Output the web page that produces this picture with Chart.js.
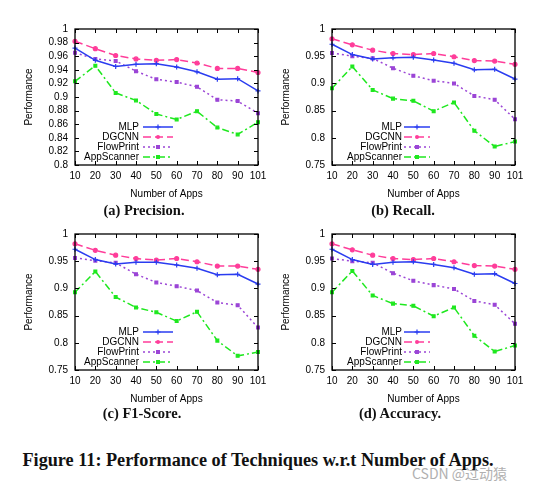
<!DOCTYPE html>
<html>
<head>
<meta charset="utf-8">
<script src="https://cdn.jsdelivr.net/npm/chart.js@4.4.1/dist/chart.umd.min.js"></script>
<style>
  body { margin: 0; background: #fff; }
  #page { position: relative; width: 547px; height: 489px; overflow: hidden; background: #fff; }
  .panel { position: absolute; width: 273px; height: 200px; }
  .sub {
    position: absolute;
    transform: translate(-50%, -50%);
    font-family: "Liberation Serif", "DejaVu Serif", serif;
    font-weight: bold;
    font-size: 14.5px;
    color: #111;
    white-space: nowrap;
  }
  #figCaption {
    position: absolute;
    left: 258px; top: 460px;
    transform: translate(-50%, -50%);
    font-family: "Liberation Serif", "DejaVu Serif", serif;
    font-weight: bold;
    font-size: 18.2px;
    color: #111;
    white-space: nowrap;
  }
  #mark {
    position: absolute;
    left: 412px; top: 463px;
    font-family: "Noto Sans CJK SC", "Liberation Sans", sans-serif;
    font-size: 14px;
    color: #b0b0b0;
    white-space: nowrap;
  }
</style>
</head>
<body>
<div id="page">
  <canvas id="chartA" class="panel" width="273" height="200" style="left:0px;top:0px"></canvas>
  <canvas id="chartB" class="panel" width="273" height="200" style="left:257px;top:0px"></canvas>
  <canvas id="chartC" class="panel" width="273" height="200" style="left:0px;top:205px"></canvas>
  <canvas id="chartD" class="panel" width="273" height="200" style="left:257px;top:205px"></canvas>
  <div class="sub" style="left:144px;top:210px">(a) Precision.</div>
  <div class="sub" style="left:403px;top:210px">(b) Recall.</div>
  <div class="sub" style="left:142px;top:413px">(c) F1-Score.</div>
  <div class="sub" style="left:400px;top:413px">(d) Accuracy.</div>
  <div id="figCaption">Figure 11: Performance of Techniques w.r.t Number of Apps.</div>
  <div id="mark">CSDN @过动猿</div>
</div>
<script>
// x categories (number of apps)
let appCounts = ['10', '20', '30', '40', '50', '60', '70', '80', '90', '101'];
let techniques = ['MLP', 'DGCNN', 'FlowPrint', 'AppScanner'];

// (a) precision
let precisionMLP = [0.972, 0.954, 0.945, 0.948, 0.949, 0.944, 0.937, 0.926, 0.927, 0.909];
let precisionDGCNN = [0.982, 0.971, 0.961, 0.956, 0.954, 0.955, 0.950, 0.942, 0.942, 0.936];
let precisionFlowPrint = [0.965, 0.956, 0.953, 0.938, 0.926, 0.922, 0.915, 0.896, 0.894, 0.876];
let precisionAppScanner = [0.923, 0.946, 0.906, 0.895, 0.875, 0.867, 0.879, 0.855, 0.845, 0.863];

// (b) recall
let recallMLP = [0.972, 0.953, 0.945, 0.947, 0.948, 0.943, 0.937, 0.925, 0.926, 0.908];
let recallDGCNN = [0.982, 0.971, 0.961, 0.955, 0.953, 0.955, 0.949, 0.942, 0.941, 0.935];
let recallFlowPrint = [0.956, 0.950, 0.946, 0.928, 0.914, 0.905, 0.900, 0.877, 0.870, 0.834];
let recallAppScanner = [0.891, 0.931, 0.888, 0.872, 0.868, 0.849, 0.865, 0.813, 0.784, 0.793];

// (c) f1-score
let f1MLP = [0.972, 0.953, 0.945, 0.948, 0.948, 0.943, 0.937, 0.925, 0.926, 0.908];
let f1DGCNN = [0.982, 0.970, 0.961, 0.955, 0.952, 0.955, 0.949, 0.941, 0.941, 0.935];
let f1FlowPrint = [0.956, 0.951, 0.947, 0.926, 0.911, 0.904, 0.896, 0.874, 0.869, 0.828];
let f1AppScanner = [0.893, 0.931, 0.884, 0.865, 0.856, 0.840, 0.857, 0.804, 0.776, 0.783];

// (d) accuracy
let accuracyMLP = [0.972, 0.953, 0.944, 0.948, 0.949, 0.944, 0.938, 0.926, 0.927, 0.909];
let accuracyDGCNN = [0.982, 0.971, 0.961, 0.955, 0.953, 0.955, 0.949, 0.942, 0.941, 0.935];
let accuracyFlowPrint = [0.955, 0.950, 0.947, 0.928, 0.914, 0.906, 0.899, 0.877, 0.870, 0.835];
let accuracyAppScanner = [0.893, 0.932, 0.887, 0.872, 0.868, 0.849, 0.865, 0.813, 0.784, 0.795];

let styles = [
  { color: '#2a3cf0', dash: [], marker: 'cross' },
  { color: '#ff3d9a', dash: [8, 4], marker: 'circle' },
  { color: '#9b45d6', dash: [2, 3], marker: 'rect' },
  { color: '#1fe81f', dash: [7, 3, 2, 3], marker: 'rect' }
];

Chart.defaults.font.family = '"Liberation Sans", Arial, sans-serif';
Chart.defaults.font.size = 10;
Chart.defaults.color = '#000';

function drawMarker(ctx, type, x, y, color) {
  ctx.save();
  ctx.setLineDash([]);
  ctx.strokeStyle = color;
  ctx.fillStyle = color;
  ctx.lineWidth = 1.2;
  if (type === 'cross') {
    ctx.beginPath();
    ctx.moveTo(x - 2.5, y); ctx.lineTo(x + 2.5, y);
    ctx.moveTo(x, y - 2.5); ctx.lineTo(x, y + 2.5);
    ctx.stroke();
  } else if (type === 'circle') {
    ctx.beginPath();
    ctx.arc(x, y, 2, 0, Math.PI * 2);
    ctx.fill();
  } else {
    ctx.fillRect(x - 2, y - 2, 4, 4);
  }
  ctx.restore();
}

// box with inward tick marks, like gnuplot
let framePlugin = {
  id: 'frame',
  afterDatasetsDraw(chart) {
    let ctx = chart.ctx;
    let area = chart.chartArea;
    let xs = chart.scales.x;
    let ys = chart.scales.y;
    ctx.save();
    ctx.strokeStyle = '#000';
    ctx.lineWidth = 1;
    ctx.beginPath();
    for (let i = 0; i < ys.ticks.length; i++) {
      let y = Math.round(ys.getPixelForValue(ys.ticks[i].value)) + 0.5;
      ctx.moveTo(area.left, y); ctx.lineTo(area.left + 4, y);
      ctx.moveTo(area.right, y); ctx.lineTo(area.right - 4, y);
    }
    for (let i = 0; i < appCounts.length; i++) {
      let x = Math.round(xs.getPixelForValue(i)) + 0.5;
      ctx.moveTo(x, area.bottom); ctx.lineTo(x, area.bottom - 4);
      ctx.moveTo(x, area.top); ctx.lineTo(x, area.top + 4);
    }
    ctx.stroke();
    ctx.lineWidth = 1.3;
    ctx.strokeRect(area.left, area.top, area.right - area.left, area.bottom - area.top);
    ctx.restore();
  }
};

// gnuplot style key: text right aligned, sample line to its right
let keyPlugin = {
  id: 'key',
  afterDraw(chart, args, opts) {
    let ctx = chart.ctx;
    let area = chart.chartArea;
    ctx.save();
    ctx.font = '10px "Liberation Sans", Arial, sans-serif';
    ctx.textAlign = 'right';
    ctx.textBaseline = 'middle';
    chart.data.datasets.forEach(function (ds, i) {
      let y = area.top + 98 + i * 10;
      ctx.fillStyle = '#000';
      ctx.fillText(ds.label, area.left + opts.textEnd, y);
      let x0 = area.left + opts.lineStart;
      let x1 = area.left + 98;
      ctx.strokeStyle = ds.borderColor;
      ctx.lineWidth = 1.5;
      ctx.setLineDash(ds.borderDash);
      ctx.beginPath();
      ctx.moveTo(x0, y); ctx.lineTo(x1, y);
      ctx.stroke();
      drawMarker(ctx, styles[i].marker, (x0 + x1) / 2, y, ds.borderColor);
    });
    ctx.restore();
  }
};

function createChart(id, series, yMin, yStep, key) {
  let ctx = document.getElementById(id).getContext('2d');
  let datasets = [];
  for (let i = 0; i < techniques.length; i++) {
    datasets.push({
      label: techniques[i],
      data: series[i],
      borderColor: styles[i].color,
      backgroundColor: styles[i].color,
      borderDash: styles[i].dash,
      borderWidth: 1.5,
      pointStyle: styles[i].marker,
      pointRadius: styles[i].marker === 'cross' ? 2.5 : 2,
      pointBorderWidth: 1.2,
      tension: 0,
      fill: false,
      order: i
    });
  }

  new Chart(ctx, {
    type: 'line',
    data: { labels: appCounts, datasets: datasets },
    options: {
      responsive: false,
      animation: false,
      layout: { padding: { top: 29, right: 15, left: 0, bottom: 0 } },
      plugins: {
        legend: { display: false },
        tooltip: { enabled: false },
        key: key
      },
      scales: {
        x: {
          type: 'category',
          offset: false,
          grid: { display: false, drawTicks: false },
          border: { display: false },
          ticks: { padding: 5, maxRotation: 0, autoSkip: false },
          title: { display: true, text: 'Number of Apps', padding: { top: 5, bottom: 0 } },
          afterFit(scale) { scale.height = 35; }
        },
        y: {
          min: yMin,
          max: 1,
          grid: { display: false, drawTicks: false },
          border: { display: false },
          ticks: {
            stepSize: yStep,
            autoSkip: false,
            padding: 7,
            callback: function (v) { return String(+v.toFixed(2)); }
          },
          title: { display: true, text: 'Performance', padding: { top: 23, bottom: 0 } },
          afterFit(scale) { scale.width = 75; }
        }
      }
    },
    plugins: [framePlugin, keyPlugin]
  });
}

createChart('chartA', [precisionMLP, precisionDGCNN, precisionFlowPrint, precisionAppScanner], 0.8, 0.02, { textEnd: 64, lineStart: 68 });
createChart('chartB', [recallMLP, recallDGCNN, recallFlowPrint, recallAppScanner], 0.75, 0.05, { textEnd: 70, lineStart: 72 });
createChart('chartC', [f1MLP, f1DGCNN, f1FlowPrint, f1AppScanner], 0.75, 0.05, { textEnd: 64, lineStart: 68 });
createChart('chartD', [accuracyMLP, accuracyDGCNN, accuracyFlowPrint, accuracyAppScanner], 0.75, 0.05, { textEnd: 70, lineStart: 72 });
</script>
</body>
</html>
